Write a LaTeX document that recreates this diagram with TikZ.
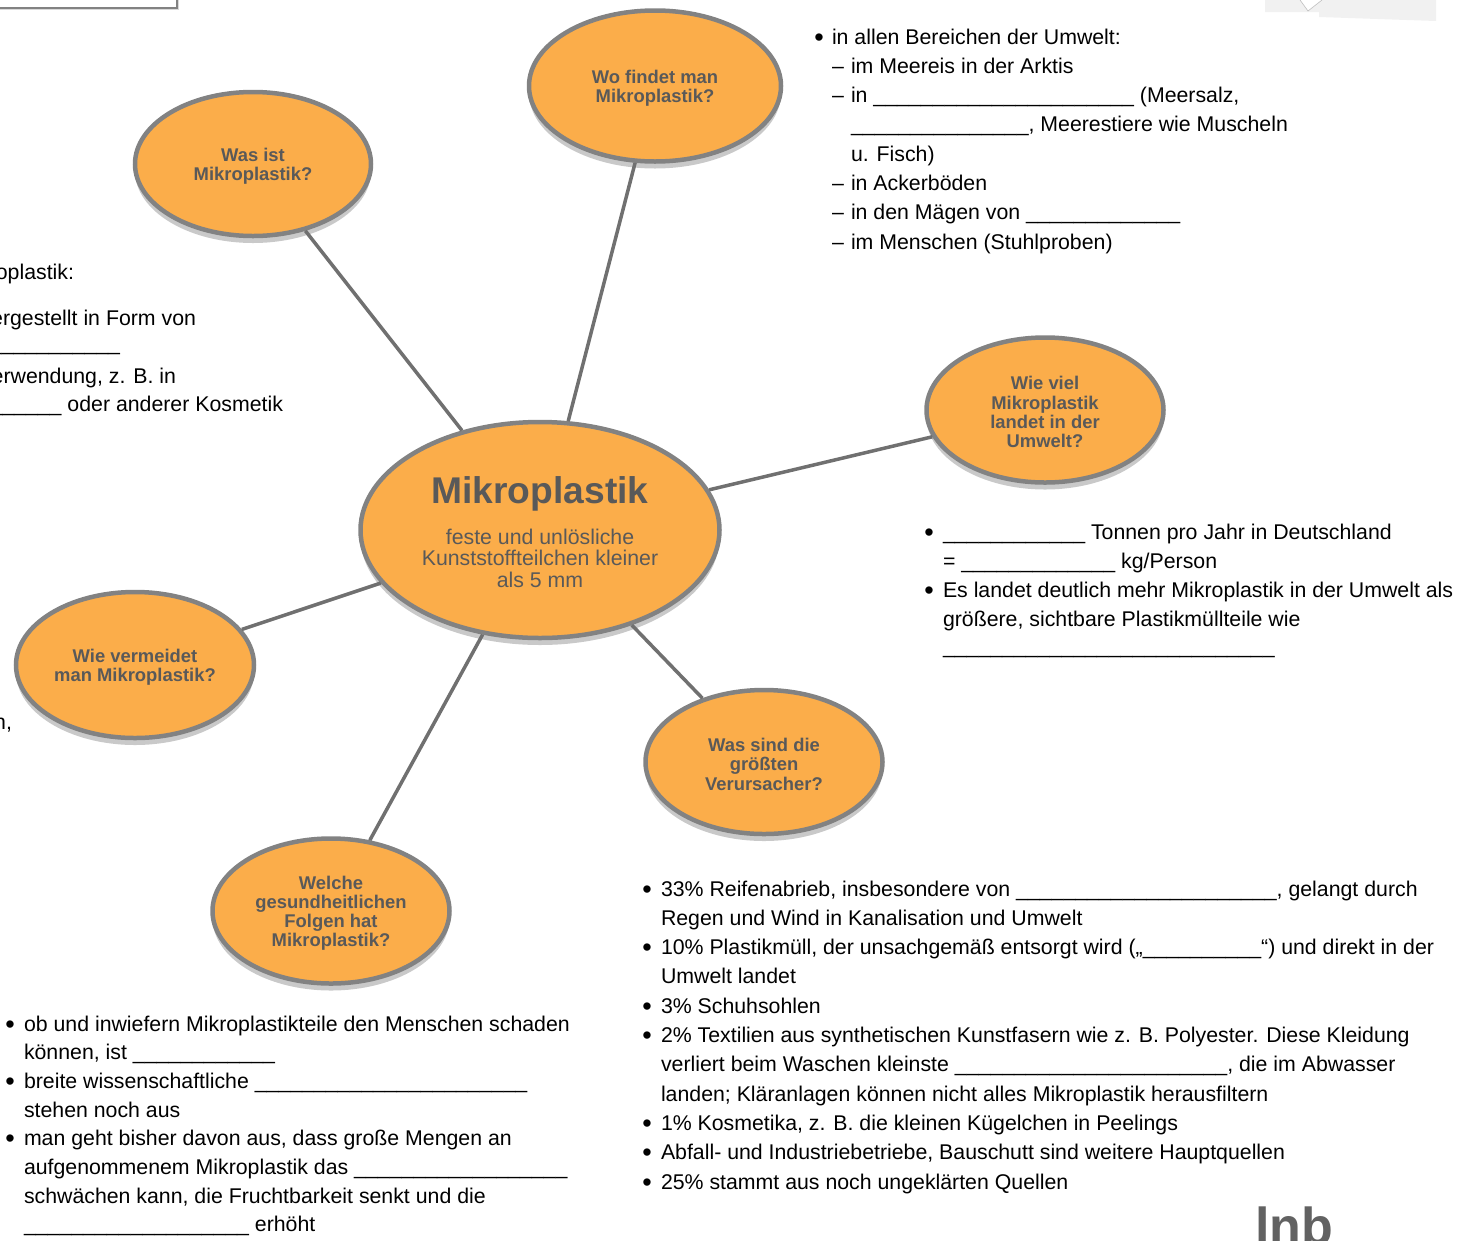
\documentclass[tikz,border=0pt]{standalone}
\usepackage{fontspec}
\setmainfont{Liberation Sans}
\usetikzlibrary{shapes.geometric,shadows}
\ExplSyntaxOn
\cs_new:Npn \blanks #1 {\prg_replicate:nn{#1}{\textunderscore}}
\ExplSyntaxOff
\newcommand\bubstrut{\rule{0pt}{17.8pt}}
\definecolor{orangefill}{HTML}{FBAD4A}
\definecolor{rimgray}{HTML}{828282}
\definecolor{linkgray}{HTML}{707070}
\definecolor{labelgray}{HTML}{595959}
\definecolor{curlgray}{HTML}{F1F1F1}
\definecolor{logogray}{HTML}{626262}
\begin{document}
\begin{tikzpicture}[x=1pt,y=-1pt,
  bubble/.style={ellipse, draw=rimgray, line width=4.5pt, fill=orangefill, inner sep=0pt,
    align=center, text=labelgray, font=\fontsize{18.4}{19.3}\selectfont\bfseries,
    drop shadow={shadow xshift=0pt, shadow yshift=-7pt, opacity=0.3, fill=black!70}},
  link/.style={draw=linkgray, line width=3.5pt},
  txt/.style={anchor=base west, inner sep=0pt, outer sep=0pt, font=\fontsize{21.3}{29.3}\selectfont, text=black},
  bul/.style={txt, font=\fontsize{27}{29}\selectfont, yshift=-2pt},
  cut/.style={txt, anchor=base east},
  coretxt/.style={inner sep=0pt, text=labelgray, align=center}
]
\useasboundingbox (0,0) rectangle (1461,1240);
\clip (0,0) rectangle (1461,1240);

% frame fragment top left and page curl top right
\fill[black!15] (-10,-10) rectangle (179,10);
\fill[white] (-10,-10) rectangle (177,8);
\draw[rimgray, line width=1.5pt] (-10,-10) rectangle (177,8);
\fill[curlgray] (1265,0) -- (1265,12) -- (1319,12) -- (1319,17) -- (1436,21) -- (1436,0) -- cycle;
\fill[white] (1300,0) -- (1308,11) -- (1322,0) -- cycle;
\draw[black!25, line width=0.6pt] (1300,0) -- (1308,11) -- (1322,0);

% bubbles
\node[bubble, minimum width=236pt, minimum height=144pt] (was) at (253,164) {\bubstrut Was ist\\Mikroplastik?};
\node[bubble, minimum width=252pt, minimum height=151pt] (wo) at (655,86) {\bubstrut Wo findet man\\Mikroplastik?};
\node[bubble, minimum width=359pt, minimum height=216pt] (core) at (540,530) {};
\node[bubble, minimum width=237pt, minimum height=145pt] (viel) at (1045,410) {\bubstrut Wie viel\\Mikroplastik\\landet in der\\Umwelt?};
\node[bubble, minimum width=238pt, minimum height=146pt] (verm) at (135,665) {\bubstrut Wie vermeidet\\man Mikroplastik?};
\node[bubble, minimum width=237pt, minimum height=144pt] (verur) at (764,762) {\bubstrut Was sind die\\größten\\Verursacher?};
\node[bubble, minimum width=237pt, minimum height=145pt] (folgen) at (331,911) {\bubstrut Welche\\gesundheitlichen\\Folgen hat\\Mikroplastik?};

\node[coretxt, anchor=base, font=\fontsize{37.2}{40}\selectfont\bfseries] (coretitle) at (540,503) {Mikroplastik};
\node[coretxt, anchor=center, font=\fontsize{21.3}{21.5}\selectfont] (coresub) at (540,558) {feste und unlösliche\\Kunststoffteilchen kleiner\\als 5 mm};

% connectors
\draw[link] (was) -- (core);
\draw[link] (wo) -- (core);
\draw[link] (viel) -- (core);
\draw[link] (verm) -- (core);
\draw[link] (verur) -- (core);
\draw[link] (folgen) -- (core);

% left cut-off text
\node[cut] (l1) at (74,279) {oplastik:};
\node[cut] (l2) at (196,325) {ergestellt in Form von};
\node[cut] (l3) at (120,350) {\blanks{11}};
\node[cut] (l4) at (176,383) {erwendung, z. B. in};
\node[cut] (l5) at (283,411) {\blanks{6} oder anderer Kosmetik};
\node[cut] (l6) at (12,729) {n,};

% where block
\node[bul] (wb0) at (814.3,44) {•};
\node[txt] (wt0) at (832,44) {in allen Bereichen der Umwelt:};
\node[txt] (wd1) at (832,73.3) {–};
\node[txt] (wt1) at (851,73.3) {im Meereis in der Arktis};
\node[txt] (wd2) at (832,102.6) {–};
\node[txt] (wt2) at (851,102.6) {in \blanks{22} (Meersalz,};
\node[txt] (wt3) at (851,131.9) {\blanks{15}, Meerestiere wie Muscheln};
\node[txt] (wt4) at (851,161.2) {u. Fisch)};
\node[txt] (wd5) at (832,190.5) {–};
\node[txt] (wt5) at (851,190.5) {in Ackerböden};
\node[txt] (wd6) at (832,219.8) {–};
\node[txt] (wt6) at (851,219.8) {in den Mägen von \blanks{13}};
\node[txt] (wd7) at (832,249.1) {–};
\node[txt] (wt7) at (851,249.1) {im Menschen (Stuhlproben)};

% how much block
\node[bul] (vb0) at (924.3,539) {•};
\node[txt] (vt0) at (943,539) {\blanks{12} Tonnen pro Jahr in Deutschland};
\node[txt] (vt1) at (943,568.3) {= \blanks{13} kg/Person};
\node[bul] (vb2) at (924.3,597.6) {•};
\node[txt] (vt2) at (943,597.6) {Es landet deutlich mehr Mikroplastik in der Umwelt als};
\node[txt] (vt3) at (943,626.9) {größere, sichtbare Plastikmüllteile wie};
\node[txt] (vt4) at (943,653) {\blanks{28}};

% causes block
\node[bul] (rb0) at (642.3,896) {•};
\node[txt] (rt0) at (661,896) {33\% Reifenabrieb, insbesondere von \blanks{22}, gelangt durch};
\node[txt] (rt1) at (661,925.3) {Regen und Wind in Kanalisation und Umwelt};
\node[bul] (rb2) at (642.3,954.6) {•};
\node[txt] (rt2) at (661,954.6) {10\% Plastikmüll, der unsachgemäß entsorgt wird („\blanks{10}“) und direkt in der};
\node[txt] (rt3) at (661,983.9) {Umwelt landet};
\node[bul] (rb4) at (642.3,1013.2) {•};
\node[txt] (rt4) at (661,1013.2) {3\% Schuhsohlen};
\node[bul] (rb5) at (642.3,1042.5) {•};
\node[txt] (rt5) at (661,1042.5) {2\% Textilien aus synthetischen Kunstfasern wie z. B. Polyester. Diese Kleidung};
\node[txt] (rt6) at (661,1071.8) {verliert beim Waschen kleinste \blanks{23}, die im Abwasser};
\node[txt] (rt7) at (661,1101.1) {landen; Kläranlagen können nicht alles Mikroplastik herausfiltern};
\node[bul] (rb8) at (642.3,1130.4) {•};
\node[txt] (rt8) at (661,1130.4) {1\% Kosmetika, z. B. die kleinen Kügelchen in Peelings};
\node[bul] (rb9) at (642.3,1159.7) {•};
\node[txt] (rt9) at (661,1159.7) {Abfall- und Industriebetriebe, Bauschutt sind weitere Hauptquellen};
\node[bul] (rb10) at (642.3,1189) {•};
\node[txt] (rt10) at (661,1189) {25\% stammt aus noch ungeklärten Quellen};

% health block
\node[bul] (hb0) at (5.3,1031) {•};
\node[txt] (ht0) at (24,1031) {ob und inwiefern Mikroplastikteile den Menschen schaden};
\node[txt] (ht1) at (24,1059.7) {können, ist \blanks{12}};
\node[bul] (hb2) at (5.3,1088.4) {•};
\node[txt] (ht2) at (24,1088.4) {breite wissenschaftliche \blanks{23}};
\node[txt] (ht3) at (24,1117.1) {stehen noch aus};
\node[bul] (hb4) at (5.3,1145.8) {•};
\node[txt] (ht4) at (24,1145.8) {man geht bisher davon aus, dass große Mengen an};
\node[txt] (ht5) at (24,1174.5) {aufgenommenem Mikroplastik das \blanks{18}};
\node[txt] (ht6) at (24,1203.2) {schwächen kann, die Fruchtbarkeit senkt und die};
\node[txt] (ht7) at (24,1231.9) {\blanks{19} erhöht};

% logo
\node[txt, text=logogray, font=\fontsize{52}{58}\selectfont\bfseries] (logo) at (1255,1244) {lnb};
\end{tikzpicture}
\end{document}
